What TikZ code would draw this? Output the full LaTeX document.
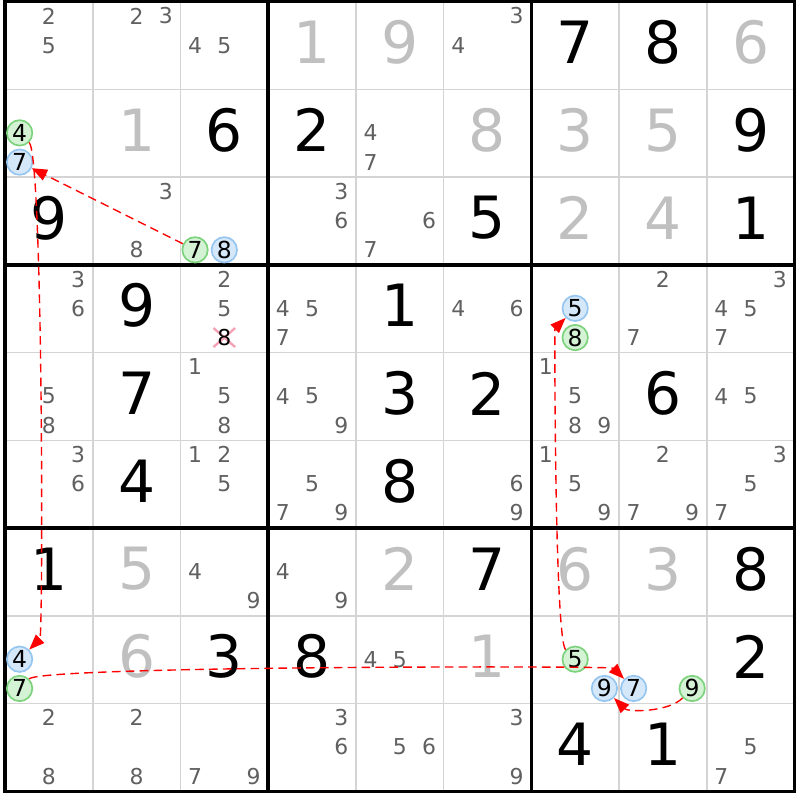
\documentclass[tikz,border=0pt]{standalone}
\usepackage{fontspec}
\setmainfont{DejaVu Sans}
\usetikzlibrary{arrows.meta,shapes.misc}
\definecolor{candgray}{RGB}{96,96,96}
\definecolor{solvedgray}{RGB}{192,192,192}
\definecolor{thingray}{RGB}{212,212,212}
\definecolor{greenfill}{RGB}{212,242,212}
\definecolor{greenline}{RGB}{125,210,125}
\definecolor{bluefill}{RGB}{212,232,250}
\definecolor{blueline}{RGB}{150,198,240}
\definecolor{crosspink}{RGB}{245,160,180}
\newcommand{\cand}[4][cand]{%
  \pgfmathsetmacro{\candx}{#3-1+(mod(#4-1,3)+0.5)/3}%
  \pgfmathsetmacro{\candy}{#2-1+(floor((#4-1)/3)+0.5)/3-0.005}%
  \node[#1] (c#2#3#4) at (\candx,\candy) {#4};}
\begin{document}
\begin{tikzpicture}[x=1cm, y=-1cm,
  given/.style={font=\fontsize{18.9}{20}\selectfont, inner sep=0pt},
  solved/.style={given, text=solvedgray},
  cand/.style={font=\fontsize{7.1}{8}\selectfont, text=candgray, inner sep=0pt},
  elim/.style={cand, text=black},
  ringed/.style={cand, font=\fontsize{7.6}{8}\selectfont, text=black, circle, minimum size=0.29cm, line width=0.55pt},
  greencand/.style={ringed, draw=greenline, fill=greenfill},
  bluecand/.style={ringed, draw=blueline, fill=bluefill},
  xcross/.style={cross out, draw=crosspink, line width=0.75pt, minimum width=0.22cm, minimum height=0.19cm, inner sep=0pt},
  thingrid/.style={thingray, line width=0.55pt},
  blockgrid/.style={black, line width=1.1pt, line cap=rect},
  link/.style={red, line width=0.45pt, dash pattern=on 2.8pt off 1.7pt, -{Triangle[length=5pt, width=3.8pt]}}]
\useasboundingbox (-0.057,-0.02) rectangle (9.063,9.10);
\foreach \i in {1,2,4,5,7,8} {
  \draw[thingrid] (\i,0) -- (\i,9);
  \draw[thingrid] (0,\i) -- (9,\i);
}
\foreach \i in {0,3,6,9} {
  \draw[blockgrid] (\i,0) -- (\i,9);
  \draw[blockgrid] (0,\i) -- (9,\i);
}
\foreach \r/\c/\v in {1/7/7,1/8/8,2/3/6,2/4/2,2/9/9,3/1/9,3/6/5,3/9/1,
  4/2/9,4/5/1,5/2/7,5/5/3,5/6/2,5/8/6,6/2/4,6/5/8,
  7/1/1,7/6/7,7/9/8,8/3/3,8/4/8,8/9/2,9/7/4,9/8/1}
  \node[given] (v\r\c) at (\c-0.5,\r-0.535) {\v};
\foreach \r/\c/\v in {1/4/1,1/5/9,1/9/6,2/2/1,2/6/8,2/7/3,2/8/5,3/7/2,3/8/4,
  7/2/5,7/5/2,7/7/6,7/8/3,8/2/6,8/6/1}
  \node[solved] (v\r\c) at (\c-0.5,\r-0.535) {\v};
\foreach \r/\c/\d in {1/1/2,1/1/5,1/2/2,1/2/3,1/3/4,1/3/5,1/6/3,1/6/4,
  2/5/4,2/5/7,
  3/2/3,3/2/8,3/4/3,3/4/6,3/5/6,3/5/7,
  4/1/3,4/1/6,4/3/2,4/3/5,4/4/4,4/4/5,4/4/7,4/6/4,4/6/6,4/8/2,4/8/7,4/9/3,4/9/4,4/9/5,4/9/7,
  5/1/5,5/1/8,5/3/1,5/3/5,5/3/8,5/4/4,5/4/5,5/4/9,5/7/1,5/7/5,5/7/8,5/7/9,5/9/4,5/9/5,
  6/1/3,6/1/6,6/3/1,6/3/2,6/3/5,6/4/5,6/4/7,6/4/9,6/6/6,6/6/9,6/7/1,6/7/5,6/7/9,6/8/2,6/8/7,6/8/9,6/9/3,6/9/5,6/9/7,
  7/3/4,7/3/9,7/4/4,7/4/9,
  8/5/4,8/5/5,
  9/1/2,9/1/8,9/2/2,9/2/8,9/3/7,9/3/9,9/4/3,9/4/6,9/5/5,9/5/6,9/6/3,9/6/9,9/9/5,9/9/7}
  \cand{\r}{\c}{\d};
\node[xcross] (x438) at (2.5,3.828) {};
\cand[elim]{4}{3}{8}
\foreach \r/\c/\d in {2/1/4,3/3/7,4/7/8,8/1/7,8/7/5,8/8/9}
  \cand[greencand]{\r}{\c}{\d};
\foreach \r/\c/\d in {2/1/7,3/3/8,4/7/5,8/1/4,8/7/9,8/8/7}
  \cand[bluecand]{\r}{\c}{\d};
\draw[link] (c337) -- (c217);
\draw[link] (c214) to[bend left=45, looseness=0.1] (c814);
\draw[link] (c817) to[bend left=45, looseness=0.08] (c887);
\draw[link] (c875) to[bend left=45, looseness=0.12] (c475);
\draw[link] (c889) to[bend left=45, looseness=0.75] (c879);
\end{tikzpicture}
\end{document}
